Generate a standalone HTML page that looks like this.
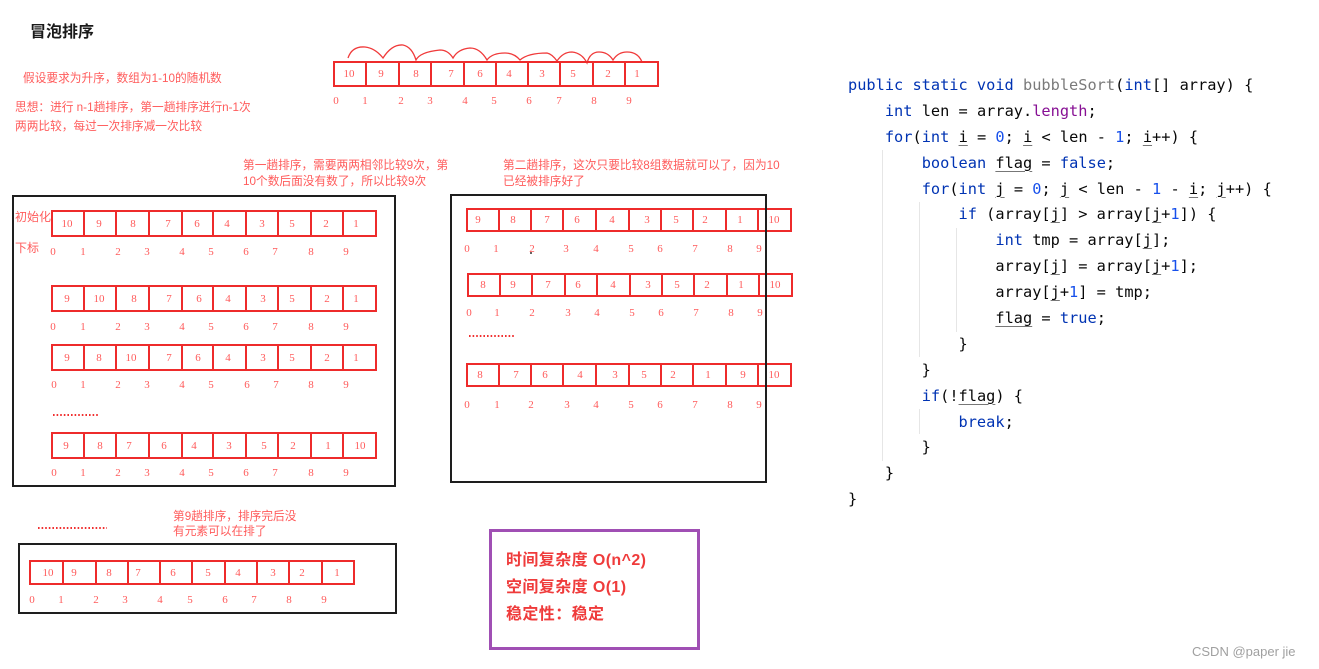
<!DOCTYPE html>
<html>
<head>
<meta charset="utf-8">
<style>
  html,body{margin:0;padding:0;background:#fff;}
  body{width:1319px;height:669px;position:relative;overflow:hidden;}
  .ann{position:absolute;color:#ff5b5b;font-family:"Liberation Sans","Noto Sans CJK SC",sans-serif;font-size:11.7px;white-space:nowrap;line-height:15px;}
  .title{position:absolute;left:30px;top:23px;font-family:"Liberation Sans","Noto Sans CJK SC",sans-serif;font-weight:bold;font-size:16px;color:#1a1a1a;line-height:20px;}
  .code{position:absolute;left:848px;top:73px;font-family:"DejaVu Sans Mono","Liberation Mono",monospace;font-size:15.3px;color:#080808;}
  .code div{height:25.9px;line-height:25.9px;white-space:pre;}
  .k{color:#0033b3;}
  .nm{color:#1750eb;}
  .g{color:#7a7a7a;}
  .p{color:#871094;}
  .u{text-decoration:underline;text-decoration-thickness:1px;text-underline-offset:3px;text-decoration-color:#777;}
  .guide{position:absolute;width:1px;background:#e6e6e6;}
  .cx{position:absolute;left:506px;font-family:"Liberation Sans","Noto Sans CJK SC",sans-serif;font-weight:bold;font-size:16px;color:#ef3b3b;line-height:20px;white-space:nowrap;letter-spacing:0.4px;}
  .wm{position:absolute;left:1192px;top:644px;font-family:"Liberation Sans",sans-serif;font-size:13px;color:#a0a0a0;line-height:16px;}
  svg text{font-family:"Liberation Serif","DejaVu Serif",serif;fill:#ff5a5a;font-size:11px;}
</style>
</head>
<body>

<div class="title">冒泡排序</div>
<div class="ann" style="left:23px;top:71px;">假设要求为升序，数组为1-10的随机数</div>
<div class="ann" style="left:15px;top:100px;">思想：进行 n-1趟排序，第一趟排序进行n-1次</div>
<div class="ann" style="left:15px;top:119px;">两两比较，每过一次排序减一次比较</div>
<div class="ann" style="left:243px;top:158px;">第一趟排序，需要两两相邻比较9次，第</div>
<div class="ann" style="left:243px;top:174px;">10个数后面没有数了，所以比较9次</div>
<div class="ann" style="left:503px;top:158px;">第二趟排序，这次只要比较8组数据就可以了，因为10</div>
<div class="ann" style="left:503px;top:174px;">已经被排序好了</div>
<div class="ann" style="left:15px;top:210px;font-size:12px;">初始化</div>
<div class="ann" style="left:15px;top:241px;font-size:12px;">下标</div>
<div class="ann" style="left:173px;top:509px;">第9趟排序，排序完后没</div>
<div class="ann" style="left:173px;top:524px;">有元素可以在排了</div>

<svg width="1319" height="669" style="position:absolute;left:0;top:0;" xmlns="http://www.w3.org/2000/svg">
  <!-- top arcs -->
  <path d="M348 58 Q352 46 365 47 Q375 48 383 58 Q392 44 403 45 Q412 47 416 60 Q420 52 440 50 Q448 50 453 58 Q458 49 470 48 Q480 48 487 60 Q492 53 505 53 Q514 53 520 60 Q528 53 547 53 Q552 54 557 61 Q563 52 572 52 Q582 53 587 63 Q590 52 599 52 Q608 52 613 60 Q618 52 627 52 Q638 52 642 62" fill="none" stroke="#f03a3a" stroke-width="1.3"/>

  <g fill="none" stroke="#ee2b2b" stroke-width="2">
    <!-- Row A -->
    <rect x="334" y="62" width="324" height="24"/>
    <path d="M366 62V86M399 62V86M431 62V86M464 62V86M496 62V86M528 62V86M560 62V86M593 62V86M625 62V86"/>
    <!-- Row B1..B4 -->
    <rect x="52" y="211" width="324" height="25"/>
    <path d="M84 211V236M116 211V236M149 211V236M182 211V236M213 211V236M246 211V236M278 211V236M311 211V236M343 211V236"/>
    <rect x="52" y="286" width="324" height="25"/>
    <path d="M84 286V311M116 286V311M149 286V311M182 286V311M213 286V311M246 286V311M278 286V311M311 286V311M343 286V311"/>
    <rect x="52" y="345" width="324" height="25"/>
    <path d="M84 345V370M116 345V370M149 345V370M182 345V370M213 345V370M246 345V370M278 345V370M311 345V370M343 345V370"/>
    <rect x="52" y="433" width="324" height="25"/>
    <path d="M84 433V458M116 433V458M149 433V458M182 433V458M213 433V458M246 433V458M278 433V458M311 433V458M343 433V458"/>
    <!-- Row C1..C3 -->
    <rect x="467" y="209" width="324" height="22"/>
    <path d="M499 209V231M531 209V231M563 209V231M596 209V231M629 209V231M661 209V231M693 209V231M726 209V231M758 209V231"/>
    <rect x="468" y="274" width="324" height="22"/>
    <path d="M500 274V296M532 274V296M565 274V296M597 274V296M630 274V296M662 274V296M694 274V296M727 274V296M759 274V296"/>
    <rect x="467" y="364" width="324" height="22"/>
    <path d="M499 364V386M531 364V386M563 364V386M596 364V386M629 364V386M661 364V386M693 364V386M726 364V386M758 364V386"/>
    <!-- Row D -->
    <rect x="30" y="561" width="324" height="23"/>
    <path d="M63 561V584M96 561V584M128 561V584M160 561V584M192 561V584M225 561V584M257 561V584M289 561V584M322 561V584"/>
  </g>

  <!-- black frames -->
  <g fill="none" stroke="#1e1e1e" stroke-width="2">
    <rect x="13" y="196" width="382" height="290"/>
    <rect x="451" y="195" width="315" height="287"/>
    <rect x="19" y="544" width="377" height="69"/>
  </g>

  <!-- purple box -->
  <rect x="490.5" y="530.5" width="208" height="118" fill="none" stroke="#a04fb4" stroke-width="3"/>

  <!-- dotted lines -->
  <g stroke="#f03030" stroke-width="2" stroke-dasharray="1.6 2">
    <line x1="53" y1="415" x2="99" y2="415"/>
    <line x1="469" y1="336" x2="514" y2="336"/>
    <line x1="38" y1="528" x2="107" y2="528"/>
  </g>
  <circle cx="531" cy="253" r="1" fill="#333"/>

  <g text-anchor="middle" dominant-baseline="central">
    <!-- Row A values -->
    <text x="349" y="74">10</text><text x="381" y="74">9</text><text x="416" y="74">8</text><text x="451" y="74">7</text><text x="480" y="74">6</text><text x="509" y="74">4</text><text x="542" y="74">3</text><text x="573" y="74">5</text><text x="608" y="74">2</text><text x="637" y="74">1</text>
    <text x="336" y="101">0</text><text x="365" y="101">1</text><text x="401" y="101">2</text><text x="430" y="101">3</text><text x="465" y="101">4</text><text x="494" y="101">5</text><text x="529" y="101">6</text><text x="559" y="101">7</text><text x="594" y="101">8</text><text x="629" y="101">9</text>

    <!-- B1 -->
    <text x="67" y="224">10</text><text x="99" y="224">9</text><text x="133" y="224">8</text><text x="168" y="224">7</text><text x="197" y="224">6</text><text x="227" y="224">4</text><text x="262" y="224">3</text><text x="292" y="224">5</text><text x="326" y="224">2</text><text x="356" y="224">1</text>
    <text x="53" y="252">0</text><text x="83" y="252">1</text><text x="118" y="252">2</text><text x="147" y="252">3</text><text x="182" y="252">4</text><text x="211" y="252">5</text><text x="246" y="252">6</text><text x="275" y="252">7</text><text x="311" y="252">8</text><text x="346" y="252">9</text>
    <!-- B2 -->
    <text x="67" y="299">9</text><text x="99" y="299">10</text><text x="134" y="299">8</text><text x="169" y="299">7</text><text x="199" y="299">6</text><text x="228" y="299">4</text><text x="263" y="299">3</text><text x="292" y="299">5</text><text x="327" y="299">2</text><text x="356" y="299">1</text>
    <text x="53" y="327">0</text><text x="83" y="327">1</text><text x="118" y="327">2</text><text x="147" y="327">3</text><text x="182" y="327">4</text><text x="211" y="327">5</text><text x="246" y="327">6</text><text x="275" y="327">7</text><text x="311" y="327">8</text><text x="346" y="327">9</text>
    <!-- B3 -->
    <text x="67" y="358">9</text><text x="99" y="358">8</text><text x="131" y="358">10</text><text x="169" y="358">7</text><text x="198" y="358">6</text><text x="228" y="358">4</text><text x="263" y="358">3</text><text x="292" y="358">5</text><text x="327" y="358">2</text><text x="356" y="358">1</text>
    <text x="54" y="385">0</text><text x="83" y="385">1</text><text x="118" y="385">2</text><text x="147" y="385">3</text><text x="182" y="385">4</text><text x="211" y="385">5</text><text x="247" y="385">6</text><text x="276" y="385">7</text><text x="311" y="385">8</text><text x="346" y="385">9</text>
    <!-- B4 -->
    <text x="66" y="446">9</text><text x="100" y="446">8</text><text x="129" y="446">7</text><text x="164" y="446">6</text><text x="194" y="446">4</text><text x="229" y="446">3</text><text x="264" y="446">5</text><text x="293" y="446">2</text><text x="328" y="446">1</text><text x="360" y="446">10</text>
    <text x="54" y="473">0</text><text x="83" y="473">1</text><text x="118" y="473">2</text><text x="147" y="473">3</text><text x="182" y="473">4</text><text x="211" y="473">5</text><text x="246" y="473">6</text><text x="275" y="473">7</text><text x="311" y="473">8</text><text x="346" y="473">9</text>

    <!-- C1 -->
    <text x="478" y="220">9</text><text x="513" y="220">8</text><text x="547" y="220">7</text><text x="577" y="220">6</text><text x="612" y="220">4</text><text x="647" y="220">3</text><text x="676" y="220">5</text><text x="705" y="220">2</text><text x="740" y="220">1</text><text x="774" y="220">10</text>
    <text x="467" y="249">0</text><text x="496" y="249">1</text><text x="532" y="249">2</text><text x="566" y="249">3</text><text x="596" y="249">4</text><text x="631" y="249">5</text><text x="660" y="249">6</text><text x="695" y="249">7</text><text x="730" y="249">8</text><text x="759" y="249">9</text>
    <!-- C2 -->
    <text x="483" y="285">8</text><text x="513" y="285">9</text><text x="548" y="285">7</text><text x="578" y="285">6</text><text x="613" y="285">4</text><text x="648" y="285">3</text><text x="677" y="285">5</text><text x="707" y="285">2</text><text x="741" y="285">1</text><text x="775" y="285">10</text>
    <text x="469" y="313">0</text><text x="497" y="313">1</text><text x="532" y="313">2</text><text x="568" y="313">3</text><text x="597" y="313">4</text><text x="632" y="313">5</text><text x="661" y="313">6</text><text x="696" y="313">7</text><text x="731" y="313">8</text><text x="760" y="313">9</text>
    <!-- C3 -->
    <text x="480" y="375">8</text><text x="516" y="375">7</text><text x="545" y="375">6</text><text x="580" y="375">4</text><text x="615" y="375">3</text><text x="644" y="375">5</text><text x="673" y="375">2</text><text x="708" y="375">1</text><text x="743" y="375">9</text><text x="774" y="375">10</text>
    <text x="467" y="405">0</text><text x="497" y="405">1</text><text x="531" y="405">2</text><text x="567" y="405">3</text><text x="596" y="405">4</text><text x="631" y="405">5</text><text x="660" y="405">6</text><text x="695" y="405">7</text><text x="730" y="405">8</text><text x="759" y="405">9</text>

    <!-- D -->
    <text x="48" y="573">10</text><text x="74" y="573">9</text><text x="109" y="573">8</text><text x="138" y="573">7</text><text x="173" y="573">6</text><text x="208" y="573">5</text><text x="238" y="573">4</text><text x="273" y="573">3</text><text x="302" y="573">2</text><text x="337" y="573">1</text>
    <text x="32" y="600">0</text><text x="61" y="600">1</text><text x="96" y="600">2</text><text x="125" y="600">3</text><text x="160" y="600">4</text><text x="190" y="600">5</text><text x="225" y="600">6</text><text x="254" y="600">7</text><text x="289" y="600">8</text><text x="324" y="600">9</text>
  </g>
</svg>

<div class="cx" style="top:551px;">时间复杂度 O(n^2)</div>
<div class="cx" style="top:578px;">空间复杂度 O(1)</div>
<div class="cx" style="top:605px;">稳定性：稳定</div>

<!-- indent guides -->
<div class="guide" style="left:882px;top:150px;height:311px;"></div>
<div class="guide" style="left:919px;top:202px;height:155px;"></div>
<div class="guide" style="left:919px;top:409px;height:25px;"></div>
<div class="guide" style="left:956px;top:228px;height:104px;"></div>

<div class="code">
<div><span class="k">public static void</span> <span class="g">bubbleSort</span>(<span class="k">int</span>[] array) {</div>
<div>    <span class="k">int</span> len = array.<span class="p">length</span>;</div>
<div>    <span class="k">for</span>(<span class="k">int</span> <span class="u">i</span> = <span class="nm">0</span>; <span class="u">i</span> &lt; len - <span class="nm">1</span>; <span class="u">i</span>++) {</div>
<div>        <span class="k">boolean</span> <span class="u">flag</span> = <span class="k">false</span>;</div>
<div>        <span class="k">for</span>(<span class="k">int</span> <span class="u">j</span> = <span class="nm">0</span>; <span class="u">j</span> &lt; len - <span class="nm">1</span> - <span class="u">i</span>; <span class="u">j</span>++) {</div>
<div>            <span class="k">if</span> (array[<span class="u">j</span>] &gt; array[<span class="u">j</span>+<span class="nm">1</span>]) {</div>
<div>                <span class="k">int</span> tmp = array[<span class="u">j</span>];</div>
<div>                array[<span class="u">j</span>] = array[<span class="u">j</span>+<span class="nm">1</span>];</div>
<div>                array[<span class="u">j</span>+<span class="nm">1</span>] = tmp;</div>
<div>                <span class="u">flag</span> = <span class="k">true</span>;</div>
<div>            }</div>
<div>        }</div>
<div>        <span class="k">if</span>(!<span class="u">flag</span>) {</div>
<div>            <span class="k">break</span>;</div>
<div>        }</div>
<div>    }</div>
<div>}</div>
</div>

<div class="wm">CSDN @paper jie</div>

</body>
</html>
